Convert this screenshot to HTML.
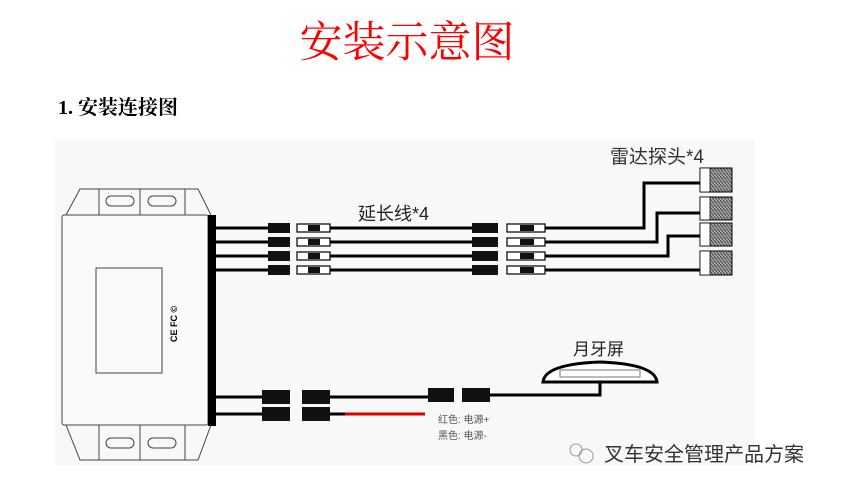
<!DOCTYPE html>
<html><head><meta charset="utf-8"><style>
body{margin:0;background:#fff;width:842px;height:490px;overflow:hidden;font-family:"Liberation Sans","Noto Sans CJK SC",sans-serif}
</style></head><body>
<svg width="842" height="490" viewBox="0 0 842 490" xmlns="http://www.w3.org/2000/svg">
<defs><pattern id="h" width="3" height="4" patternUnits="userSpaceOnUse"><rect width="3" height="4" fill="#aaa"/><path d="M0 0L3 4" stroke="#444" stroke-width="1"/></pattern></defs>
<text x="407" y="57" text-anchor="middle" font-family="Liberation Serif,Noto Serif CJK SC,serif" font-size="43" fill="#f00">安装示意图</text>
<text x="58" y="114" font-family="Liberation Serif,Noto Serif CJK SC,serif" font-size="20" font-weight="bold" fill="#000">1.  安装连接图</text>
<rect x="55" y="140" width="700" height="325" fill="#f8f8f8"/>
<g fill="none" stroke="#444" stroke-width="1">
<path d="M66 215 L80 189 H198 L211 215"/>
<path d="M99 189 V215 M140 189 V215 M185 189 V215"/>
<rect x="106" y="196" width="28" height="10" rx="5"/><rect x="148" y="196" width="28" height="10" rx="5"/>
<path d="M66 425 L80 460 H198 L211 425"/>
<path d="M99 425 V460 M140 425 V460 M185 425 V460"/>
<rect x="106" y="438" width="28" height="10" rx="5"/><rect x="148" y="438" width="28" height="10" rx="5"/>
<rect x="62" y="215" width="146" height="210" rx="2" fill="#fafafa"/>
<rect x="96" y="268" width="66" height="105"/>
</g>
<rect x="208" y="215" width="8" height="211" fill="#000"/>
<text transform="translate(177,342) rotate(-90)" font-size="9" font-weight="bold">CE FC ©</text>
<g stroke="#000" stroke-width="3" fill="none">
<path d="M216 228H268M216 242H268M216 256H268M216 270H268"/>
<path d="M330 228H472M330 242H472M330 256H472M330 270H472"/>
<path d="M545 228H644V183H700M545 242H657V213H700M545 256H668V236H700M545 270H700"/>
<path d="M216 397H262M216 414H262M330 397H428M330 414H345"/>
<path d="M490 395H600V380"/>
</g>
<path d="M345 414H425" stroke="#d00" stroke-width="3"/>
<g fill="#111">
<rect x="268" y="223" width="22" height="10"/><rect x="268" y="237" width="22" height="10"/><rect x="268" y="251" width="22" height="10"/><rect x="268" y="265" width="22" height="10"/>
<rect x="472" y="223" width="26" height="10"/><rect x="472" y="237" width="26" height="10"/><rect x="472" y="251" width="26" height="10"/><rect x="472" y="265" width="26" height="10"/>
<rect x="262" y="390" width="28" height="14"/><rect x="262" y="407" width="28" height="14"/>
<rect x="302" y="390" width="28" height="14"/><rect x="302" y="407" width="28" height="14"/>
<rect x="428" y="388" width="26" height="14"/><rect x="462" y="388" width="28" height="14"/>
</g>
<g fill="#fff" stroke="#000" stroke-width="1.2">
<rect x="297" y="224" width="33" height="8"/><rect x="297" y="238" width="33" height="8"/><rect x="297" y="252" width="33" height="8"/><rect x="297" y="266" width="33" height="8"/>
<rect x="507" y="224" width="38" height="8"/><rect x="507" y="238" width="38" height="8"/><rect x="507" y="252" width="38" height="8"/><rect x="507" y="266" width="38" height="8"/>
</g>
<g fill="#111"><rect x="308" y="225" width="12" height="6"/><rect x="308" y="239" width="12" height="6"/><rect x="308" y="253" width="12" height="6"/><rect x="308" y="267" width="12" height="6"/>
<rect x="520" y="225" width="14" height="6"/><rect x="520" y="239" width="14" height="6"/><rect x="520" y="253" width="14" height="6"/><rect x="520" y="267" width="14" height="6"/></g>
<g fill="url(#h)" stroke="#000">
<rect x="700" y="168" width="32" height="24"/><rect x="700" y="197" width="32" height="23"/><rect x="700" y="223" width="32" height="23"/><rect x="700" y="251" width="32" height="24"/>
</g>
<g fill="#fff" stroke="#000" stroke-width="0.8"><rect x="700" y="168" width="10" height="24"/><rect x="700" y="197" width="10" height="23"/><rect x="700" y="223" width="10" height="23"/><rect x="700" y="251" width="10" height="24"/></g>
<path d="M543 382 Q545 364 600 362 Q655 364 657 382 Z" fill="#fff" stroke="#000" stroke-width="3"/>
<rect x="560" y="370" width="80" height="7" fill="none" stroke="#777" stroke-width="1"/>
<text x="358" y="220" font-size="18" fill="#222">延长线*4</text>
<text x="610" y="163" font-size="19" fill="#333">雷达探头*4</text>
<text x="573" y="355" font-size="17" fill="#222">月牙屏</text>
<text x="438" y="423" font-size="10" fill="#555">红色: 电源+</text>
<text x="438" y="439" font-size="10" fill="#555">黑色: 电源-</text>
<circle cx="576" cy="450" r="6" fill="none" stroke="#999"/><circle cx="586" cy="456" r="7" fill="none" stroke="#999"/>
<text x="604" y="461" font-size="20" fill="#333">叉车安全管理产品方案</text>
</svg>
</body></html>
